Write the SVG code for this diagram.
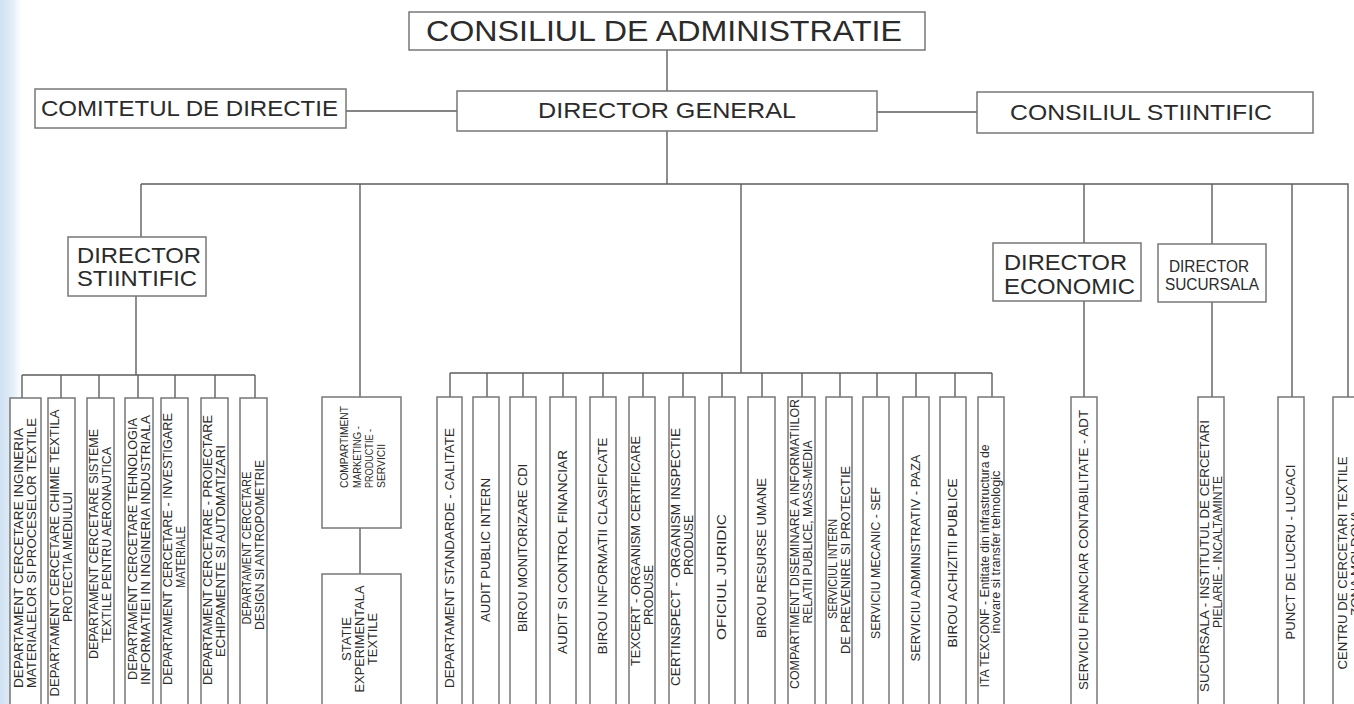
<svg xmlns="http://www.w3.org/2000/svg" width="1354" height="704" viewBox="0 0 1354 704">
<defs>
<linearGradient id="edge" x1="0" y1="0" x2="1" y2="0">
<stop offset="0" stop-color="#cfe1f2"/>
<stop offset="0.6" stop-color="#e6f0f9"/>
<stop offset="1" stop-color="#ffffff" stop-opacity="0"/>
</linearGradient>
<style>
.box{fill:#fff;stroke:#777;stroke-width:1.5}
.ln{fill:none;stroke:#5e5e5e;stroke-width:1.4}
text{font-family:"Liberation Sans",Arial,Helvetica,sans-serif;fill:#2b2b2b}
.h{font-size:21.5px}
.v{font-size:12px;text-anchor:middle}
.vs{font-size:11.5px}
</style>
</defs>
<rect x="0" y="0" width="1354" height="704" fill="#fff"/>
<rect x="0" y="0" width="24" height="704" fill="url(#edge)"/>

<g id="connectors" class="ln">
<path d="M667 50V91M346 111H457M877 112H977M667 131V184M141 184H1348V397M141 184V237M360 184V397M741 184V373M1084 184V243M1212 184V244M1292 184V397"/>
<path d="M136 296V375M22 375H255M22 375V398M61 375V398M99 375V398M138 375V398M175 375V398M215 375V398M255 375V398"/>
<path d="M360 528V574"/>
<path d="M450 373H992M450 373V397M487 373V397M523 373V397M563 373V397M603 373V397M643 373V397M683 373V397M722 373V397M762 373V397M802 373V397M840 373V397M877 373V397M916 373V397M955 373V397M992 373V397"/>
<path d="M1084 301V397M1212 302V397"/>
</g>

<g id="n-consiliul-admin"><rect class="box" x="409" y="12" width="516" height="38"/><text x="426" y="41" font-size="29" textLength="476" lengthAdjust="spacingAndGlyphs">CONSILIUL DE ADMINISTRATIE</text></g>
<g id="n-director-general"><rect class="box" x="457" y="91" width="420" height="40"/><text class="h" x="667" y="118" text-anchor="middle" textLength="258" lengthAdjust="spacingAndGlyphs">DIRECTOR GENERAL</text></g>
<g id="n-comitetul"><rect class="box" x="35" y="89" width="311" height="39"/><text class="h" x="41" y="116" textLength="297" lengthAdjust="spacingAndGlyphs">COMITETUL DE DIRECTIE</text></g>
<g id="n-consiliul-stiintific"><rect class="box" x="977" y="92" width="336" height="41"/><text class="h" x="1010" y="120" textLength="262" lengthAdjust="spacingAndGlyphs">CONSILIUL STIINTIFIC</text></g>

<g id="n-director-stiintific"><rect class="box" x="68" y="237" width="138" height="59"/><text class="h" x="77" y="263" textLength="124" lengthAdjust="spacingAndGlyphs">DIRECTOR</text><text class="h" x="77" y="286" textLength="120" lengthAdjust="spacingAndGlyphs">STIINTIFIC</text></g>
<g id="n-director-economic"><rect class="box" x="993" y="243" width="148" height="58"/><text class="h" x="1004" y="270" textLength="123" lengthAdjust="spacingAndGlyphs">DIRECTOR</text><text class="h" x="1004" y="294" textLength="131" lengthAdjust="spacingAndGlyphs">ECONOMIC</text></g>
<g id="n-director-sucursala"><rect class="box" x="1158" y="244" width="108" height="58"/><text x="1209" y="272" font-size="16" text-anchor="middle" textLength="80" lengthAdjust="spacingAndGlyphs">DIRECTOR</text><text x="1212" y="290" font-size="16" text-anchor="middle" textLength="94" lengthAdjust="spacingAndGlyphs">SUCURSALA</text></g>

<!-- left group -->
<g id="n-dep-inginerie"><rect class="box" x="10" y="398" width="31" height="320"/>
<text class="v" transform="translate(23.3,558) rotate(-90)" textLength="260" lengthAdjust="spacingAndGlyphs">DEPARTAMENT CERCETARE INGINERIA</text>
<text class="v" transform="translate(36.3,553) rotate(-90)" textLength="270" lengthAdjust="spacingAndGlyphs">MATERIALELOR SI PROCESELOR TEXTILE</text></g>
<g id="n-dep-chimie"><rect class="box" x="48" y="398" width="27" height="320"/>
<text class="v" transform="translate(59.3,553) rotate(-90)" textLength="287" lengthAdjust="spacingAndGlyphs">DEPARTAMENT CERCETARE CHIMIE TEXTILA</text>
<text class="v" transform="translate(72.3,557) rotate(-90)" textLength="130" lengthAdjust="spacingAndGlyphs">PROTECTIA MEDIULUI</text></g>
<g id="n-dep-sisteme"><rect class="box" x="87" y="398" width="27" height="320"/>
<text class="v" transform="translate(98.3,544) rotate(-90)" textLength="230" lengthAdjust="spacingAndGlyphs">DEPARTAMENT CERCETARE SISTEME</text>
<text class="v" transform="translate(111.3,545) rotate(-90)" textLength="196" lengthAdjust="spacingAndGlyphs">TEXTILE PENTRU AERONAUTICA</text></g>
<g id="n-dep-tehnologia"><rect class="box" x="125" y="398" width="28" height="320"/>
<text class="v" transform="translate(136.8,549) rotate(-90)" textLength="262" lengthAdjust="spacingAndGlyphs">DEPARTAMENT CERCETARE TEHNOLOGIA</text>
<text class="v" transform="translate(149.8,550) rotate(-90)" textLength="270" lengthAdjust="spacingAndGlyphs">INFORMATIEI IN INGINERIA INDUSTRIALA</text></g>
<g id="n-dep-investigare"><rect class="box" x="161" y="398" width="27" height="320"/>
<text class="v" transform="translate(172.3,549) rotate(-90)" textLength="272" lengthAdjust="spacingAndGlyphs">DEPARTAMENT CERCETARE - INVESTIGARE</text>
<text class="v" transform="translate(185.3,557) rotate(-90)" textLength="62" lengthAdjust="spacingAndGlyphs">MATERIALE</text></g>
<g id="n-dep-proiectare"><rect class="box" x="201" y="398" width="27" height="320"/>
<text class="v" transform="translate(212.3,550) rotate(-90)" textLength="270" lengthAdjust="spacingAndGlyphs">DEPARTAMENT CERCETARE - PROIECTARE</text>
<text class="v" transform="translate(225.3,551) rotate(-90)" textLength="212" lengthAdjust="spacingAndGlyphs">ECHIPAMENTE SI AUTOMATIZARI</text></g>
<g id="n-dep-design"><rect class="box" x="240" y="398" width="27" height="320"/>
<text class="v" transform="translate(251.3,548) rotate(-90)" textLength="153" lengthAdjust="spacingAndGlyphs">DEPARTAMENT CERCETARE</text>
<text class="v" transform="translate(264.3,545) rotate(-90)" textLength="170" lengthAdjust="spacingAndGlyphs">DESIGN SI ANTROPOMETRIE</text></g>

<!-- marketing -->
<g id="n-compartiment-marketing"><rect class="box" x="322" y="397" width="79" height="131"/>
<text class="vs" transform="translate(347.6,488) rotate(-90)" textLength="82" lengthAdjust="spacingAndGlyphs">COMPARTIMENT</text>
<text class="vs" transform="translate(360.6,488) rotate(-90)" textLength="62" lengthAdjust="spacingAndGlyphs">MARKETING -</text>
<text class="vs" transform="translate(372.6,488) rotate(-90)" textLength="59" lengthAdjust="spacingAndGlyphs">PRODUCTIE -</text>
<text class="vs" transform="translate(384.6,488) rotate(-90)" textLength="44" lengthAdjust="spacingAndGlyphs">SERVICII</text></g>
<g id="n-statie"><rect class="box" x="322" y="574" width="79" height="150"/>
<text class="v" transform="translate(351.3,639) rotate(-90)" textLength="44" lengthAdjust="spacingAndGlyphs">STATIE</text>
<text class="v" transform="translate(364.3,639) rotate(-90)" textLength="107" lengthAdjust="spacingAndGlyphs">EXPERIMENTALA</text>
<text class="v" transform="translate(376.8,639) rotate(-90)" textLength="52" lengthAdjust="spacingAndGlyphs">TEXTILE</text></g>

<!-- middle group -->
<g id="n-standarde"><rect class="box" x="437" y="397" width="25" height="320"/>
<text class="v" transform="translate(453.8,558) rotate(-90)" textLength="260" lengthAdjust="spacingAndGlyphs">DEPARTAMENT STANDARDE - CALITATE</text></g>
<g id="n-audit-public"><rect class="box" x="473" y="397" width="26" height="320"/>
<text class="v" transform="translate(490.3,550) rotate(-90)" textLength="144" lengthAdjust="spacingAndGlyphs">AUDIT PUBLIC INTERN</text></g>
<g id="n-birou-monitorizare"><rect class="box" x="510" y="397" width="26" height="320"/>
<text class="v" transform="translate(527.3,548) rotate(-90)" textLength="168" lengthAdjust="spacingAndGlyphs">BIROU MONITORIZARE CDI</text></g>
<g id="n-audit-control"><rect class="box" x="550" y="397" width="26" height="320"/>
<text class="v" transform="translate(567.3,552) rotate(-90)" textLength="204" lengthAdjust="spacingAndGlyphs">AUDIT SI CONTROL FINANCIAR</text></g>
<g id="n-birou-informatii"><rect class="box" x="590" y="397" width="26" height="320"/>
<text class="v" transform="translate(607.3,546) rotate(-90)" textLength="217" lengthAdjust="spacingAndGlyphs">BIROU INFORMATII CLASIFICATE</text></g>
<g id="n-texcert"><rect class="box" x="629" y="397" width="26" height="320"/>
<text class="v" transform="translate(639.8,551) rotate(-90)" textLength="230" lengthAdjust="spacingAndGlyphs">TEXCERT - ORGANISM CERTIFICARE</text>
<text class="v" transform="translate(652.8,595) rotate(-90)" textLength="60" lengthAdjust="spacingAndGlyphs">PRODUSE</text></g>
<g id="n-certinspect"><rect class="box" x="669" y="397" width="26" height="320"/>
<text class="v" transform="translate(679.8,557) rotate(-90)" textLength="258" lengthAdjust="spacingAndGlyphs">CERTINSPECT - ORGANISM INSPECTIE</text>
<text class="v" transform="translate(692.8,545) rotate(-90)" textLength="60" lengthAdjust="spacingAndGlyphs">PRODUSE</text></g>
<g id="n-oficiul-juridic"><rect class="box" x="709" y="397" width="26" height="320"/>
<text class="v" transform="translate(726.3,577) rotate(-90)" textLength="126" lengthAdjust="spacingAndGlyphs">OFICIUL JURIDIC</text></g>
<g id="n-birou-resurse"><rect class="box" x="748" y="397" width="27" height="320"/>
<text class="v" transform="translate(765.8,558) rotate(-90)" textLength="160" lengthAdjust="spacingAndGlyphs">BIROU RESURSE UMANE</text></g>
<g id="n-diseminare"><rect class="box" x="788" y="397" width="27" height="320"/>
<text class="v" transform="translate(799.3,544) rotate(-90)" textLength="290" lengthAdjust="spacingAndGlyphs">COMPARTIMENT DISEMINARE A INFORMATIILOR</text>
<text class="v" transform="translate(812.3,532) rotate(-90)" textLength="183" lengthAdjust="spacingAndGlyphs">RELATII PUBLICE, MASS-MEDIA</text></g>
<g id="n-serviciul-intern"><rect class="box" x="826" y="397" width="26" height="320"/>
<text class="v" transform="translate(836.8,569) rotate(-90)" textLength="100" lengthAdjust="spacingAndGlyphs">SERVICIUL INTERN</text>
<text class="v" transform="translate(849.8,560) rotate(-90)" textLength="188" lengthAdjust="spacingAndGlyphs">DE PREVENIRE SI PROTECTIE</text></g>
<g id="n-serviciu-mecanic"><rect class="box" x="863" y="397" width="26" height="320"/>
<text class="v" transform="translate(880.3,563) rotate(-90)" textLength="152" lengthAdjust="spacingAndGlyphs">SERVICIU MECANIC - SEF</text></g>
<g id="n-serviciu-administrativ"><rect class="box" x="903" y="397" width="26" height="320"/>
<text class="v" transform="translate(920.3,558) rotate(-90)" textLength="207" lengthAdjust="spacingAndGlyphs">SERVICIU ADMINISTRATIV - PAZA</text></g>
<g id="n-birou-achizitii"><rect class="box" x="940" y="397" width="26" height="320"/>
<text class="v" transform="translate(957.3,563) rotate(-90)" textLength="169" lengthAdjust="spacingAndGlyphs">BIROU ACHIZITII PUBLICE</text></g>
<g id="n-ita-texconf"><rect class="box" x="978" y="397" width="26" height="320"/>
<text class="v" font-size="10" transform="translate(988.6,566) rotate(-90)" textLength="243" lengthAdjust="spacingAndGlyphs">ITA TEXCONF - Entitate din infrastructura de</text>
<text class="v" font-size="10" transform="translate(999.6,552) rotate(-90)" textLength="163" lengthAdjust="spacingAndGlyphs">inovare si transfer tehnologic</text></g>

<!-- right group -->
<g id="n-serviciu-financiar"><rect class="box" x="1071" y="397" width="26" height="320"/>
<text class="v" transform="translate(1088.3,550) rotate(-90)" textLength="280" lengthAdjust="spacingAndGlyphs">SERVICIU FINANCIAR CONTABILITATE - ADT</text></g>
<g id="n-sucursala"><rect class="box" x="1198" y="397" width="26" height="320"/>
<text class="v" transform="translate(1208.8,556) rotate(-90)" textLength="272" lengthAdjust="spacingAndGlyphs">SUCURSALA - INSTITUTUL DE CERCETARI</text>
<text class="v" transform="translate(1221.8,552) rotate(-90)" textLength="152" lengthAdjust="spacingAndGlyphs">PIELARIE - INCALTAMINTE</text></g>
<g id="n-punct-lucru"><rect class="box" x="1278" y="397" width="26" height="320"/>
<text class="v" transform="translate(1295.3,552) rotate(-90)" textLength="175" lengthAdjust="spacingAndGlyphs">PUNCT DE LUCRU - LUCACI</text></g>
<g id="n-centru-moldova"><rect class="box" x="1333" y="397" width="34" height="320"/>
<text class="v" transform="translate(1347.3,563) rotate(-90)" textLength="213" lengthAdjust="spacingAndGlyphs">CENTRU DE CERCETARI TEXTILE</text>
<text class="v" transform="translate(1360.3,563) rotate(-90)" textLength="106" lengthAdjust="spacingAndGlyphs">ZONA MOLDOVA</text></g>
</svg>
